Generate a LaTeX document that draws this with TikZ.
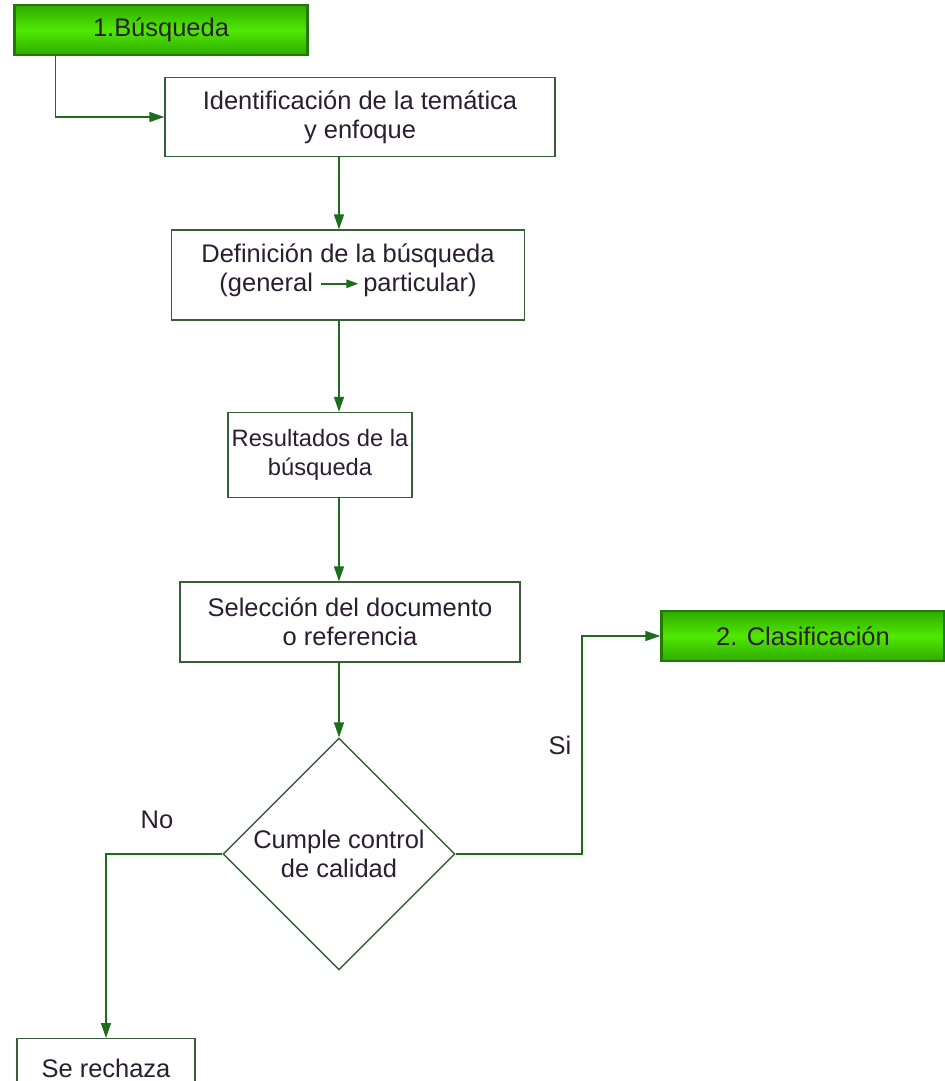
\documentclass[tikz,border=0pt]{standalone}
\usepackage{fontspec}
\setmainfont{Liberation Sans}
\usepackage{tikz}
\usetikzlibrary{
  arrows.meta,
  shapes.geometric
}
\definecolor{flowgreen}{RGB}{30,108,30}
\definecolor{boxline}{RGB}{55,95,55}
\definecolor{inkcol}{RGB}{42,30,48}
\definecolor{gbright}{RGB}{80,232,0}
\definecolor{gmid}{RGB}{46,170,0}
\definecolor{gdark}{RGB}{36,120,10}
\tikzset{
  flow/.style={draw=flowgreen,line width=0.85pt,-{Triangle[length=0.3cm,width=0.2cm]}},
  stepbox/.style={draw=boxline,line width=0.8pt,fill=white,align=center,
    text=inkcol,inner sep=2pt},
  phasebox/.style={draw=gdark,line width=1.4pt,shading=axis,top color=gmid,
    bottom color=gmid,middle color=gbright,text=inkcol,inner sep=2pt},
  checkbox/.style={diamond,draw=boxline,line width=0.8pt,align=center,
    text=inkcol,inner sep=0pt},
  branch/.style={text=inkcol},
}
\newcommand{\genarrow}{\tikz[baseline=-0.6ex,x=1cm,y=1cm]
  \draw[draw=flowgreen,line width=0.85pt,-{Triangle[length=0.24cm,width=0.17cm]}] (0,0) -- (0.75,0);}

\begin{document}
\begin{tikzpicture}[
  x=0.02cm,y=-0.02cm,
  font=\fontsize{14.5}{16.5}\selectfont,
]
\path[use as bounding box] (0,0) rectangle (945,1081);
\clip (0,0) rectangle (945,1081);
\coordinate (spine) at (339,0);
\coordinate (sibend) at (582,0);

\node[phasebox,minimum width=5.86cm,minimum height=1cm] (busq) at (161,30) {1.Búsqueda};
\node[stepbox,minimum width=7.8cm,minimum height=1.58cm] (ident) at (360,117)
  {Identificación de la temática\\y enfoque};
\node[stepbox,minimum width=7.06cm,minimum height=1.8cm] (defin) at (348,275)
  {Definición de la búsqueda\\(general \genarrow\,particular)\\[-8.5pt]};
\node[stepbox,minimum width=3.68cm,minimum height=1.7cm,font=\fontsize{13.5}{16.5}\selectfont] (result) at (320,455)
  {Resultados de la\\búsqueda};
\node[stepbox,minimum width=6.8cm,minimum height=1.6cm] (selec) at (350,622)
  {Selección del documento\\o referencia};
\node[checkbox,minimum width=4.64cm,minimum height=4.64cm] (check) at (339,854)
  {Cumple control\\de calidad};
\node[phasebox,minimum width=5.66cm,minimum height=1cm] (clasif) at (803,636) {2. Clasificación};
\node[stepbox,anchor=north,minimum width=3.56cm,minimum height=1.2cm] (rech) at (106,1038)
  {Se rechaza};
\node[branch] (no) at (157,820) {No};
\node[branch] (si) at (560,745) {Si};

\draw[flow] ([xshift=0.84cm]busq.south west) |- (ident.west);
\draw[flow] (ident.south -| spine) -- (defin.north -| spine);
\draw[flow] (defin.south -| spine) -- (result.north -| spine);
\draw[flow] (result.south -| spine) -- (selec.north -| spine);
\draw[flow] (selec.south -| spine) -- (check.north);
\draw[flow] (check.west) -| (rech.north);
\draw[flow] (check.east) -- (check.east -| sibend) |- (clasif.west);
\end{tikzpicture}
\end{document}
